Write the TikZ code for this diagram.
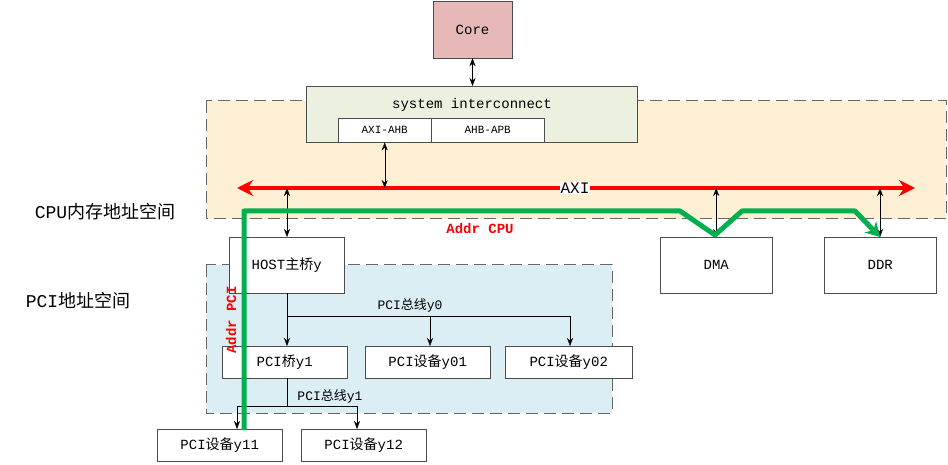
\documentclass[tikz,border=0pt]{standalone}
\usepackage{fontspec}
\setmainfont{Liberation Mono}
\newfontfamily\cjk{Noto Sans CJK SC}
\newcommand\zh[1]{{\cjk #1}}
\usetikzlibrary{arrows.meta}
\definecolor{corepink}{RGB}{230,184,183}
\definecolor{icgreen}{RGB}{235,241,222}
\definecolor{cpuarea}{RGB}{253,239,212}
\definecolor{pciarea}{RGB}{218,238,243}
\definecolor{pathgreen}{RGB}{0,176,80}
\begin{document}
\begin{tikzpicture}[x=1pt,y=-1pt,font=\fontsize{14}{16}\selectfont,
    box/.style={draw=black!70,fill=white,rectangle,minimum width=#1,minimum height=32pt,inner sep=0pt},
    area/.style={draw=black!60,dashed,dash pattern=on 12pt off 6pt,line width=1pt},
    link/.style={{Stealth[length=8pt,width=6pt]}-{Stealth[length=8pt,width=6pt]}},
    down/.style={-{Stealth[length=8pt,width=6pt]}}]
  \useasboundingbox (0,0) rectangle (948,465);
  % address spaces
  \filldraw[area,fill=cpuarea] (206,101) rectangle (946,219);
  \filldraw[area,fill=pciarea] (206,265) rectangle (612,413);
  \node[font=\fontsize{18}{20}\selectfont] (cpulbl) at (105,212) {CPU\zh{内存地址空间}};
  \node[font=\fontsize{18}{20}\selectfont] (pcilbl) at (78,301) {PCI\zh{地址空间}};

  % top
  \node[box=79pt,minimum height=57pt,fill=corepink] (core) at (472.5,29.5) {Core};
  \node[box=331pt,minimum height=56pt,fill=icgreen,anchor=north west] (ic) at (306,86) {};
  \node (ictext) at (472,105) {system interconnect};
  \node[box=93pt,minimum height=24pt,anchor=north west,font=\fontsize{11}{12}\selectfont] (axiahb) at (338,118) {AXI-AHB};
  \node[box=113pt,minimum height=24pt,anchor=north west,font=\fontsize{11}{12}\selectfont] (ahbapb) at (431,118) {AHB-APB};
  \draw[link] (core) -- (ic.north -| core);

  % AXI bus
  \coordinate (axiL) at (237,188);
  \coordinate (axiR) at (915,188);
  \draw[red,line width=4pt,{Stealth[length=16pt,width=16pt]}-{Stealth[length=16pt,width=16pt]}] (axiL) -- (axiR);
  \node[fill=white,inner sep=1pt,font=\fontsize{16}{17}\selectfont] (axi) at (575,188) {AXI};

  % masters / slaves
  \node[box=115pt,minimum height=56pt,anchor=north west] (host) at (229,237) {HOST\zh{主桥}y};
  \node[box=112pt,minimum height=56pt,anchor=north west] (dma) at (660,237) {DMA};
  \node[box=112pt,minimum height=56pt,anchor=north west] (ddr) at (824,237) {DDR};
  \draw[link] (axiahb.south) -- (axiahb.south |- axiL);
  \draw[link] (host.north -| 287,0) -- (287,188);
  \draw[link] (dma.north) -- (dma.north |- axiL);
  \draw[link] (ddr.north -| 880,0) -- (880,188);

  % PCI tree
  \node[box=125pt,anchor=north west] (br1) at (222,346) {PCI\zh{桥}y1};
  \node[box=125pt,anchor=north west] (d01) at (365,346) {PCI\zh{设备}y01};
  \node[box=127pt,anchor=north west] (d02) at (505,346) {PCI\zh{设备}y02};
  \node[box=125pt,anchor=north west] (d11) at (157,429) {PCI\zh{设备}y11};
  \node[box=125pt,anchor=north west] (d12) at (301,429) {PCI\zh{设备}y12};
  \coordinate (bus0) at (287,316);
  \coordinate (bus1) at (287,406);
  \draw (host.south -| bus0) -- (bus0) -- (570,316);
  \draw[down] (bus0) -- (br1.north -| bus0);
  \draw[down] (430,316) -- (d01.north -| 430,0);
  \draw[down] (570,316) -- (d02.north -| 570,0);
  \node[font=\fontsize{13}{14}\selectfont] (bus0lbl) at (410,305) {PCI\zh{总线}y0};
  \draw (br1.south -| bus1) -- (bus1);
  \draw (237,406) -- (357,406);
  \draw[down] (237,406) -- (d11.north -| 237,0);
  \draw[down] (357,406) -- (d12.north -| 357,0);
  \node[font=\fontsize{13}{14}\selectfont] (bus1lbl) at (330,396) {PCI\zh{总线}y1};

  % address path
  \draw[pathgreen,line width=5pt,line join=round,-{Stealth[length=14pt,width=16pt]}]
    (244,430) -- (244,211) -- (680,211) -- (715,235) -- (742,211) -- (855,211) -- (ddr.north -| 880,0);
  \node[red,font=\bfseries\fontsize{14}{15}\selectfont] (addrcpu) at (480,228) {Addr CPU};
  \node[red,rotate=90,font=\bfseries\fontsize{14}{15}\selectfont] (addrpci) at (231,320) {Addr PCI};
\end{tikzpicture}
\end{document}
